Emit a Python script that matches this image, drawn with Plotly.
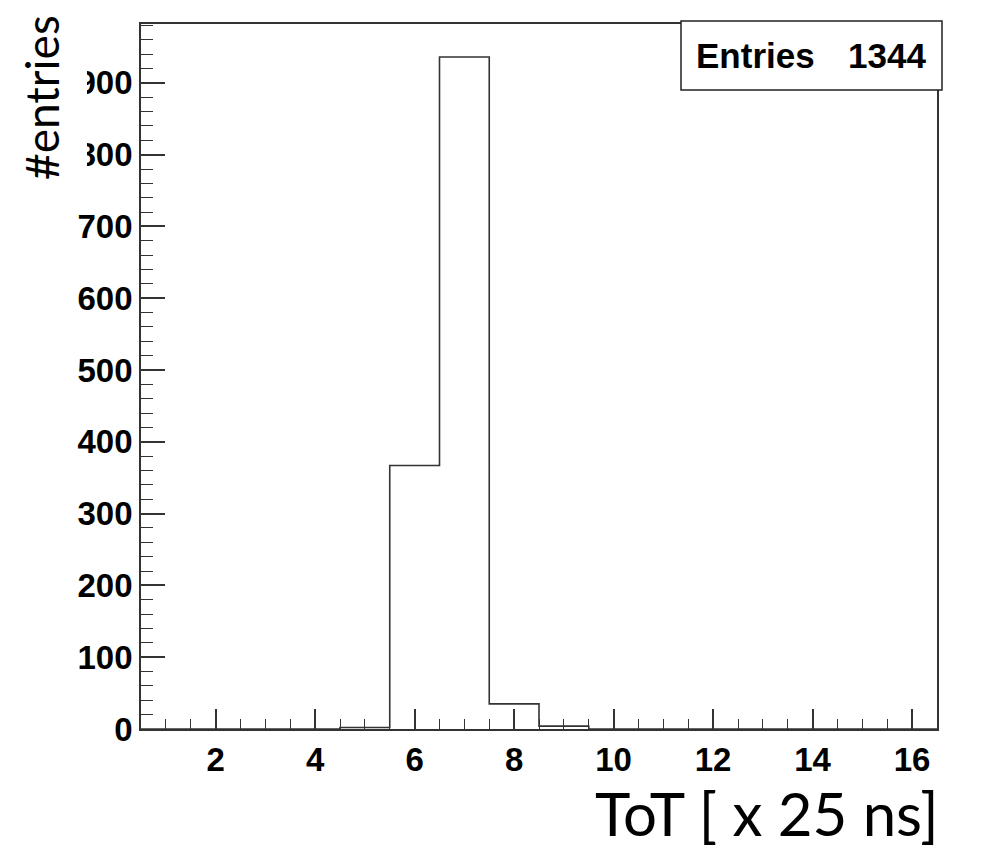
import plotly.graph_objects as go

# ---- data ----
bin_centers = list(range(1, 17))
counts = [0, 0, 0, 0, 2, 367, 936, 35, 4, 0, 0, 0, 0, 0, 0, 0]
entries = 1344
x_title = "ToT [ x 25 ns]"
y_title = "#entries"

# step outline built from bin edges
edges = [c - 0.5 for c in bin_centers] + [bin_centers[-1] + 0.5]
step_y = counts + [counts[-1]]

W, H = 984, 851
L, R, T, B = 141, 47, 24, 122
pw, ph = W - L - R, H - T - B

def px(x):
    return (x - L) / pw

def py(y):
    return (H - B - y) / ph

fig = go.Figure()
fig.add_trace(go.Scatter(
    x=edges, y=step_y, mode="lines", line_shape="hv",
    line=dict(color="#333333", width=1.6), hoverinfo="skip", showlegend=False,
))

tickfont = dict(family="Liberation Sans, Arial, sans-serif", size=33, color="black", weight="bold")

fig.update_xaxes(
    range=[0.5, 16.5], tick0=0, dtick=2, ticks="inside", ticklen=20, tickwidth=1.5,
    tickcolor="#333333", showline=True, linecolor="#333333", linewidth=1.8, mirror=True,
    showgrid=False, zeroline=False, tickfont=tickfont, automargin=False,
    minor=dict(dtick=0.5, tick0=0, ticks="inside", ticklen=10, tickwidth=1.3, tickcolor="#333333", showgrid=False),
)
fig.update_yaxes(
    range=[0, 982], tick0=0, dtick=100, ticks="inside", ticklen=24, tickwidth=1.5,
    tickcolor="#333333", showline=True, linecolor="#333333", linewidth=1.8, mirror=True,
    showgrid=False, zeroline=False, tickfont=tickfont, automargin=False,
    minor=dict(dtick=20, tick0=0, ticks="inside", ticklen=12, tickwidth=1.3, tickcolor="#333333", showgrid=False),
)

# white cover top-left (cropped look) and stats box
fig.add_shape(type="rect", xref="paper", yref="paper", layer="above",
              x0=px(-5), x1=px(87), y0=py(190), y1=py(-5),
              fillcolor="white", line=dict(width=0))
fig.add_shape(type="rect", xref="paper", yref="paper", layer="above",
              x0=px(681), x1=px(942), y0=py(90), y1=py(21),
              fillcolor="white", line=dict(color="#222222", width=1.5))

statfont = dict(family="Liberation Sans, Arial, sans-serif", size=35, color="black", weight="bold")
fig.add_annotation(x=px(694), y=py(56), xref="paper", yref="paper", text="Entries",
                   showarrow=False, xanchor="left", yanchor="middle", font=statfont)
fig.add_annotation(x=px(928), y=py(56), xref="paper", yref="paper", text=str(entries),
                   showarrow=False, xanchor="right", yanchor="middle", font=statfont)

titlefont = dict(family="Lato, Open Sans, sans-serif", size=60, color="black")
fig.add_annotation(x=px(941), y=py(813), xref="paper", yref="paper", text=x_title,
                   showarrow=False, xanchor="right", yanchor="middle", font=titlefont)
fig.add_annotation(x=px(41), y=py(98), xref="paper", yref="paper", text=y_title,
                   showarrow=False, xanchor="center", yanchor="middle", textangle=-90,
                   font=dict(family="Lato, Open Sans, sans-serif", size=46, color="black"))

fig.update_layout(
    width=W, height=H, margin=dict(l=L, r=R, t=T, b=B, pad=0),
    paper_bgcolor="white", plot_bgcolor="white", showlegend=False,
)

fig.write_html("out.html", config={"displayModeBar": False},
               post_script="document.body.style.margin='0';document.body.style.padding='0';")
